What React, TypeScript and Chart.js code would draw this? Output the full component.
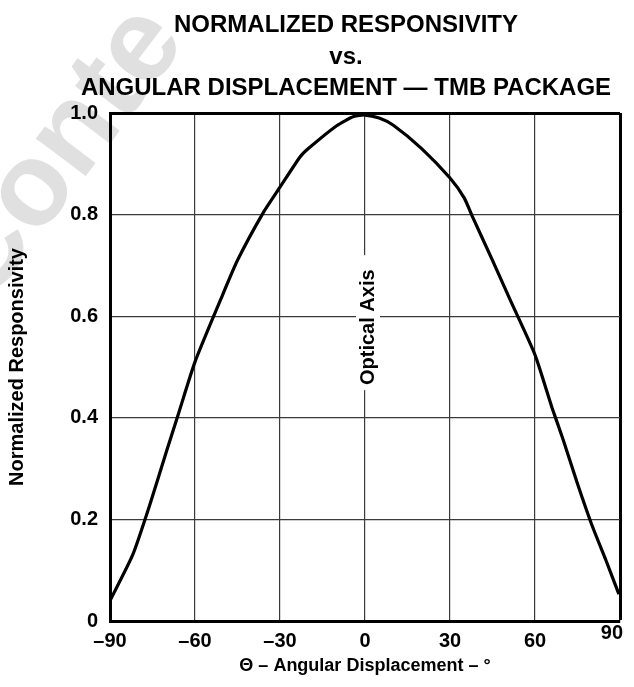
import { useEffect, useRef } from "react";
import { Chart, registerables } from "chart.js";

Chart.register(...registerables);

const angles = [-90, -82, -76, -70, -66, -60, -51, -45, -36, -30, -23, -20, -10, -4, 0, 5, 10, 20, 30, 35, 38, 45, 51, 60, 66, 70, 75, 80, 85, 89.6];
const responsivity = [0.04, 0.13, 0.228, 0.335, 0.405, 0.51, 0.632, 0.71, 0.803, 0.854, 0.913, 0.93, 0.975, 0.993, 0.996, 0.99, 0.976, 0.93, 0.872, 0.833, 0.795, 0.71, 0.635, 0.524, 0.42, 0.356, 0.27, 0.19, 0.12, 0.053];
const xTickValues = [-90, -60, -30, 0, 30, 60, 90];
const yTickValues = [0, 0.2, 0.4, 0.6, 0.8, 1.0];
const titleLines = ["NORMALIZED RESPONSIVITY", "vs.", "ANGULAR DISPLACEMENT \u2014 TMB PACKAGE"];
const xAxisTitle = "\u0398 \u2013 Angular Displacement \u2013 \u00B0";
const yAxisTitle = "Normalized Responsivity";
const axisNote = "Optical Axis";
const watermark = "Conte";

const FONT = "'Liberation Sans', Arial, Helvetica, sans-serif";
const fmtX = (v: number) => (v < 0 ? "\u2013" + Math.abs(v) : String(v));

export default function App() {
  const ref = useRef<HTMLCanvasElement | null>(null);

  useEffect(() => {
    const canvas = ref.current;
    if (!canvas) return;

    const decor = {
      id: "decor",
      beforeDraw(chart: any) {
        const ctx = chart.ctx;
        ctx.save();
        ctx.fillStyle = "#ffffff";
        ctx.fillRect(0, 0, chart.width, chart.height);
        // faint watermark
        ctx.translate(-14, 308);
        ctx.rotate((-53 * Math.PI) / 180);
        ctx.fillStyle = "#e0e0e0";
        ctx.font = `bold 118px ${FONT}`;
        ctx.textBaseline = "alphabetic";
        ctx.fillText(watermark, 0, 0);
        ctx.restore();
      },
      afterDraw(chart: any) {
        const ctx = chart.ctx;
        const xs = chart.scales.x;
        const ys = chart.scales.y;
        ctx.save();
        // titles
        ctx.fillStyle = "#000";
        ctx.font = `bold 24px ${FONT}`;
        ctx.textAlign = "center";
        ctx.textBaseline = "alphabetic";
        const baselines = [32, 64, 95];
        titleLines.forEach((t, i) => ctx.fillText(t, 346, baselines[i]));
        // last x tick label, drawn raised and right-aligned as in the source
        const last = xTickValues[xTickValues.length - 1];
        ctx.font = `bold 20px ${FONT}`;
        ctx.textAlign = "right";
        ctx.textBaseline = "middle";
        ctx.fillText(fmtX(last), xs.getPixelForValue(last) + 3, xs.top + 12);
        // Optical axis label
        const cx = xs.getPixelForValue(0);
        const cy = ys.getPixelForValue(0.6) + 11;
        ctx.fillStyle = "#fff";
        ctx.fillRect(cx - 9, cy - 72, 24, 135);
        ctx.translate(cx + 3, cy);
        ctx.rotate(-Math.PI / 2);
        ctx.fillStyle = "#000";
        ctx.font = `bold 20px ${FONT}`;
        ctx.textAlign = "center";
        ctx.textBaseline = "middle";
        ctx.fillText(axisNote, 0, 0);
        ctx.restore();
      },
    };

    const chart = new Chart(canvas, {
      type: "line",
      data: {
        datasets: [
          {
            data: angles.map((a, i) => ({ x: a, y: responsivity[i] })),
            borderColor: "#000",
            borderWidth: 3.2,
            pointRadius: 0,
            tension: 0.2,
            fill: false,
          },
        ],
      },
      options: {
        animation: false,
        responsive: false,
        devicePixelRatio: 1,
        layout: { padding: { top: 113, right: 14, left: 0, bottom: 0 } },
        plugins: { legend: { display: false }, tooltip: { enabled: false }, title: { display: false } },
        scales: {
          x: {
            type: "linear",
            min: -90,
            max: 90,
            afterBuildTicks: (s: any) => {
              s.ticks = xTickValues.map((v) => ({ value: v }));
            },
            afterFit: (s: any) => {
              s.height = 66;
              s.paddingLeft = 0;
              s.paddingRight = 0;
            },
            ticks: {
              color: "#000",
              font: { family: FONT, size: 20, weight: "bold" },
              padding: 8,
              maxRotation: 0,
              autoSkip: false,
              callback: (v: any) => (Number(v) === 90 ? "" : fmtX(Number(v))),
            },
            grid: {
              drawTicks: false,
              color: (c: any) => (c.tick && Math.abs(c.tick.value) === 90 ? "#000" : "#3a3a3a"),
              lineWidth: (c: any) => (c.tick && c.tick.value === 90 ? 3 : 1.2),
            },
            border: { display: true, color: "#000", width: 3 },
            title: {
              display: true,
              text: xAxisTitle,
              color: "#000",
              font: { family: FONT, size: 18, weight: "bold" },
              padding: { top: 0, bottom: 10 },
            },
          },
          y: {
            type: "linear",
            min: 0,
            max: 1,
            afterBuildTicks: (s: any) => {
              s.ticks = yTickValues.map((v) => ({ value: v }));
            },
            afterFit: (s: any) => {
              s.width = 110;
            },
            ticks: {
              color: "#000",
              font: { family: FONT, size: 20, weight: "bold" },
              padding: 12,
              callback: (v: any) => (Number(v) === 0 ? "0" : Number(v).toFixed(1)),
            },
            grid: {
              drawTicks: false,
              color: (c: any) => (c.tick && (c.tick.value === 1 || c.tick.value === 0) ? "#000" : "#3a3a3a"),
              lineWidth: (c: any) => (c.tick && c.tick.value === 1 ? 3 : 1.2),
            },
            border: { display: true, color: "#000", width: 3 },
            title: {
              display: true,
              text: yAxisTitle,
              color: "#000",
              font: { family: FONT, size: 20, weight: "bold" },
              padding: { top: 5, bottom: 0 },
            },
          },
        },
      },
      plugins: [decor],
    } as any);

    return () => chart.destroy();
  }, []);

  return (
    <div style={{ position: "fixed", left: 0, top: 0, width: 634, height: 687, background: "#fff" }}>
      <canvas ref={ref} width={634} height={687} style={{ width: 634, height: 687, display: "block" }} />
    </div>
  );
}
